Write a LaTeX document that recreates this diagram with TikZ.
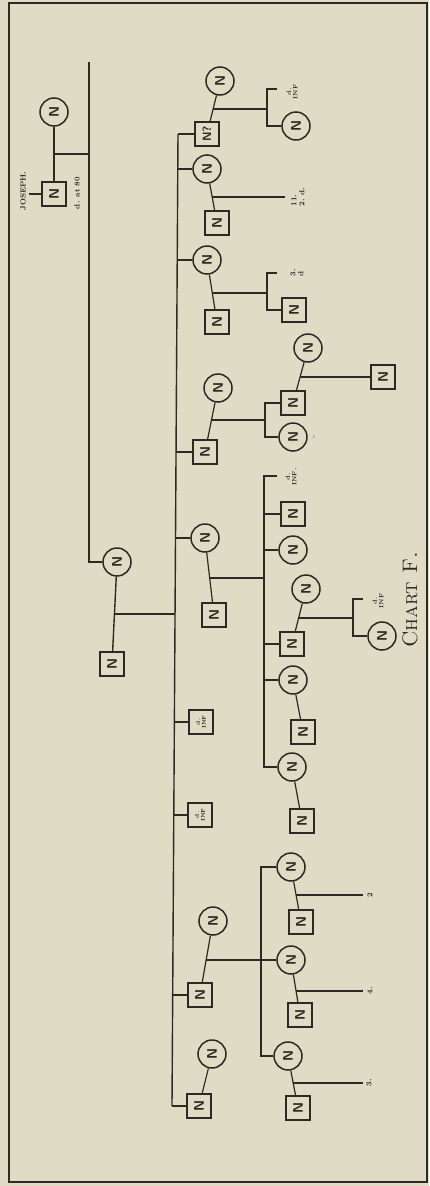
\documentclass[tikz,border=0pt]{standalone}
\definecolor{paper}{HTML}{E0DBC5}
\definecolor{ink}{HTML}{2B2A24}
\begin{document}
\begin{tikzpicture}[x=1pt,y=-1pt,
  every path/.style={draw=ink,line width=1.4pt},
  fem/.style={circle,draw=ink,fill=paper,line width=1.5pt,minimum size=28pt,inner sep=0pt,
    text=ink,font=\sffamily\bfseries\fontsize{14}{14}\selectfont,rotate=90},
  mal/.style={rectangle,draw=ink,fill=paper,line width=1.5pt,minimum size=24pt,inner sep=0pt,
    text=ink,font=\sffamily\bfseries\fontsize{14}{14}\selectfont,rotate=90},
  dinf/.style={rectangle,draw=ink,fill=paper,line width=1.5pt,minimum size=24pt,inner sep=0pt,
    text=ink,align=center,font=\bfseries\fontsize{5.5}{6}\selectfont,rotate=90},
  lbl/.style={inner sep=0pt,text=ink,align=left,font=\bfseries\fontsize{7.5}{8}\selectfont,rotate=90},
  tiny/.style={inner sep=0pt,text=ink,align=center,font=\bfseries\fontsize{6}{6.5}\selectfont,rotate=90},
  diag/.style={line width=1.2pt}]
% background and frame
\fill[paper,draw=none] (0,0) rectangle (429,1186);
\draw[line width=1.5pt] (9,3) rectangle (427,1182);

% ---- nodes ----
\node[fem] (jc) at (54,112) {N};
\node[mal] (js) at (54,194) {N};
\node[lbl] (jname) at (23,191) {JOSEPH.};
\node[lbl] (jage) at (77,193) {d. at 80};
\node[fem] (pc) at (117,562) {N};
\node[mal] (ps) at (112,664) {N};

\node[mal,font=\sffamily\bfseries\fontsize{12}{12}\selectfont] (c1) at (207,134) {N?};
\node[fem] (c1w) at (220,81) {N};
\node[tiny] (c1l) at (292,92) {d.\\INF};
\node[fem] (c1b) at (296,126) {N};

\node[fem] (c2) at (207,169) {N};
\node[mal] (c2s) at (217,223) {N};
\node[lbl] (c2l) at (298,197) {11.\\2. d.};

\node[fem] (c3) at (207,260) {N};
\node[mal] (c3s) at (217,322) {N};
\node[lbl] (c3l) at (297,273) {3.\\d};
\node[mal] (c3b) at (294,310) {N};

\node[mal] (c4) at (205,452) {N};
\node[fem] (c4w) at (218,388) {N};
\node[mal] (c4a) at (293,403) {N};
\node[fem] (c4aw) at (308,348) {N};
\node[mal] (c4ac) at (383,377) {N};
\node[fem] (c4b) at (293,437) {N};
\node[inner sep=0pt,text=ink,font=\bfseries\fontsize{6}{6}\selectfont] (c4bl) at (314,437) {:};

\node[fem] (c5) at (205,538) {N};
\node[mal] (c5s) at (214,615) {N};
\node[tiny] (c5l) at (291,477) {d.\\INF.};
\node[mal] (c5b) at (293,514) {N};
\node[fem] (c5c) at (293,550) {N};
\node[mal] (c5d) at (292,644) {N};
\node[fem] (c5dw) at (306,589) {N};
\node[tiny] (c5dl) at (378,601) {d.\\INF};
\node[fem] (c5dc) at (382,636) {N};
\node[fem] (c5e) at (293,680) {N};
\node[mal] (c5es) at (303,732) {N};
\node[fem] (c5f) at (292,767) {N};
\node[mal] (c5fs) at (302,821) {N};

\node[dinf] (c6) at (201,722) {d.\\INF};
\node[dinf] (c7) at (200,815) {d.\\INF};

\node[mal] (c8) at (200,995) {N};
\node[fem] (c8w) at (213,921) {N};
\node[fem] (c8a) at (291,867) {N};
\node[mal] (c8as) at (301,922) {N};
\node[lbl] (c8al) at (370,895) {2};
\node[fem] (c8b) at (291,960) {N};
\node[mal] (c8bs) at (300,1015) {N};
\node[lbl] (c8bl) at (370,991) {4.};
\node[fem] (c8c) at (288,1056) {N};
\node[mal] (c8cs) at (298,1108) {N};
\node[lbl] (c8cl) at (369,1083) {3.};

\node[mal] (c9) at (199,1106) {N};
\node[fem] (c9w) at (212,1054) {N};

\node[inner sep=0pt,text=ink,rotate=90,font=\fontsize{21}{21}\selectfont] (title) at (410,600) {\textsc{Chart F.}};

% ---- coordinates ----
\coordinate (jstub) at (29,194);
\coordinate (gtop) at (89,62);
\coordinate (gbot) at (89,562);
\coordinate (s1) at (178,134);
\coordinate (s2) at (178,169);
\coordinate (s3) at (177,260);
\coordinate (s4) at (176,452);
\coordinate (s5) at (175.5,538);
\coordinate (sp) at (175,614);
\coordinate (s6) at (174.4,722);
\coordinate (s7) at (173.8,815);
\coordinate (s8) at (172.7,995);
\coordinate (s9) at (172,1106);

\coordinate (k1t) at (267,89);
\coordinate (k1e) at (277,89);
\coordinate (k1b) at (267,126);
\coordinate (k2e) at (285,197);
\coordinate (k3t) at (267,273);
\coordinate (k3e) at (277,273);
\coordinate (k3b) at (267,310);
\coordinate (k4t) at (265,403);
\coordinate (k4b) at (265,437);
\coordinate (k5t) at (264,476);
\coordinate (k5e) at (277,476);
\coordinate (k5b) at (264,767);
\coordinate (k5dt) at (353,599);
\coordinate (k5de) at (363,599);
\coordinate (k5db) at (353,636);
\coordinate (k8t) at (261,867);
\coordinate (k8b) at (261,1056);
\coordinate (k8ae) at (363,895);
\coordinate (k8be) at (363,991);
\coordinate (k8ce) at (363,1083);

% couple line junctions (on the line joining each couple)
\coordinate (mj) at (54,154);
\coordinate (mp) at (115,614);
\coordinate (m1) at (213,109);
\coordinate (m2) at (212,197);
\coordinate (m3) at (212,293);
\coordinate (m4) at (211,420);
\coordinate (m4a) at (300,377);
\coordinate (m5) at (210,578);
\coordinate (m5d) at (299,618);
\coordinate (m8) at (206,960);
\coordinate (m8a) at (296,895);
\coordinate (m8b) at (296,991);
\coordinate (m8c) at (293,1083);

% ---- connectors ----
% Joseph and wife
\draw (jc) -- (js);
\draw (jstub) -- (js);
\draw (mj) -- (mj -| gtop);
\draw (gtop) -- (gbot) -- (pc);
% parents
\draw (pc) -- (ps);
\draw (mp) -- (sp);
% sibling line
\draw (s1) -- (s9);
\draw (s1) -- (c1);
\draw (s2) -- (c2);
\draw (s3) -- (c3);
\draw (s4) -- (c4);
\draw (s5) -- (c5);
\draw (s6) -- (c6);
\draw (s7) -- (c7);
\draw (s8) -- (c8);
\draw (s9) -- (c9);

% family 1
\draw[diag] (c1w) -- (c1);
\draw (m1) -- (m1 -| k1t);
\draw (k1e) -- (k1t) -- (k1b) -- (c1b);
% family 2
\draw[diag] (c2) -- (c2s);
\draw (m2) -- (k2e);
% family 3
\draw[diag] (c3) -- (c3s);
\draw (m3) -- (m3 -| k3t);
\draw (k3e) -- (k3t) -- (k3b) -- (c3b);
% family 4
\draw[diag] (c4w) -- (c4);
\draw (m4) -- (m4 -| k4t);
\draw (c4a) -- (k4t) -- (k4b) -- (c4b);
\draw[diag] (c4aw) -- (c4a);
\draw (m4a) -- (c4ac);
% family 5
\draw[diag] (c5) -- (c5s);
\draw (m5) -- (m5 -| k5t);
\draw (k5e) -- (k5t) -- (k5b) -- (c5f);
\draw (k5t |- c5b) -- (c5b);
\draw (k5t |- c5c) -- (c5c);
\draw (k5t |- c5d) -- (c5d);
\draw (k5t |- c5e) -- (c5e);
\draw[diag] (c5dw) -- (c5d);
\draw (m5d) -- (m5d -| k5dt);
\draw (k5de) -- (k5dt) -- (k5db) -- (c5dc);
\draw[diag] (c5e) -- (c5es);
\draw[diag] (c5f) -- (c5fs);
% family 8
\draw[diag] (c8w) -- (c8);
\draw (m8) -- (c8b);
\draw (c8a) -- (k8t) -- (k8b) -- (c8c);
\draw[diag] (c8a) -- (c8as);
\draw (m8a) -- (k8ae);
\draw[diag] (c8b) -- (c8bs);
\draw (m8b) -- (k8be);
\draw[diag] (c8c) -- (c8cs);
\draw (m8c) -- (k8ce);
% family 9
\draw[diag] (c9w) -- (c9);
\end{tikzpicture}
\end{document}
